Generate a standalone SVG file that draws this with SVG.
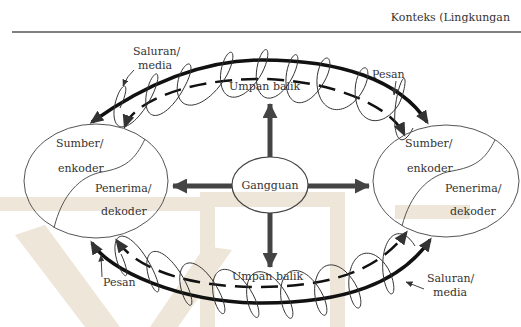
<svg xmlns="http://www.w3.org/2000/svg" xmlns:xlink="http://www.w3.org/1999/xlink" width="521" height="327" viewBox="0 0 521 327">
<style>
.t{font-family:"DejaVu Serif","Liberation Serif",serif;font-size:11px;fill:#333}
.node{fill:none;stroke:#555;stroke-width:1}
.thick{fill:none;stroke:#111;stroke-width:3.5}
.dash{fill:none;stroke:#111;stroke-width:2.5;stroke-dasharray:17 9}
.gray{fill:none;stroke:#444;stroke-width:5}
.lead{fill:none;stroke:#444;stroke-width:1}
.coil{fill:none;stroke:#333;stroke-width:1}
</style>
<defs>
<marker id="ah" viewBox="0 0 14 12" refX="11" refY="6" markerWidth="14" markerHeight="12" markerUnits="userSpaceOnUse" orient="auto-start-reverse"><path d="M0,0 L14,6 L0,12 z" fill="#333"/></marker>
<marker id="big" viewBox="0 0 15 15" refX="14" refY="7.5" markerWidth="15" markerHeight="15" markerUnits="userSpaceOnUse" orient="auto"><path d="M0,0 L15,7.5 L0,15 z" fill="#444"/></marker>
<marker id="sm" viewBox="0 0 7 6" refX="6.5" refY="3" markerWidth="7" markerHeight="6" markerUnits="userSpaceOnUse" orient="auto"><path d="M0,0 L7,3 L0,6 z" fill="#333"/></marker>
<path id="coil" class="coil" vector-effect="non-scaling-stroke" d="M0,0 C1.458,-6.021 1.623,-12.003 0.86,-16.26 C0.097,-20.517 -1.567,-23 -3.25,-23 C-4.933,-23 -6.597,-20.517 -7.36,-16.26 C-8.123,-12.003 -7.958,-6.021 -6.5,0 C-5.042,6.021 -2.29,12.003 1.39,16.26 C5.07,20.517 9.65,23 14.25,23 C18.85,23 23.43,20.517 27.11,16.26 C30.79,12.003 33.542,6.021 35,0"/>
</defs>
<rect width="521" height="327" fill="#fff"/>
<g id="watermark" fill="#eee6d8">
<polygon points="0,197 200,197 200,211 0,211"/>
<polygon points="15,235 45,225 120,327 85,327"/>
<polygon points="150,327 178,327 232,250 205,246"/>
<path d="M200,192 H345 V327 H330 V207 H215 V327 H200 Z"/>
<polygon points="395,205 470,205 470,219 395,219"/>
</g>
<g id="header">
<text class="t" x="510" y="21" text-anchor="end">Konteks (Lingkungan</text>
<line x1="12" y1="32" x2="521" y2="32" stroke="#555" stroke-width="1.5"/>
</g>
<g id="connectors">
<path class="thick" d="M92,122 C130,95 190,60 262,60 C340,60 400,80 427,122" marker-start="url(#ah)" marker-end="url(#ah)"/>
<path class="dash" d="M125,126 C132,105 180,79 262,79 C330,80 390,105 404,134" marker-start="url(#ah)" marker-end="url(#ah)"/>
<path class="thick" d="M92,243 C108,270 180,303 262,303 C345,303 400,283 430,240" marker-start="url(#ah)" marker-end="url(#ah)"/>
<path class="dash" d="M117,241 C138,270 190,287 258,287 C320,287 375,275 406,233" marker-start="url(#ah)" marker-end="url(#ah)"/>
<g id="coil-top">
<use xlink:href="#coil" transform="matrix(.914,-.343,-.3,1,120,108)"/>
<use xlink:href="#coil" transform="matrix(.943,-.286,-.3,1,152,96)"/>
<use xlink:href="#coil" transform="matrix(1.2,-.314,-.3,1,185,86)"/>
<use xlink:href="#coil" transform="matrix(1,-.057,-.3,1,227,75)"/>
<use xlink:href="#coil" transform="matrix(.857,.143,-.3,1,262,73)"/>
<use xlink:href="#coil" transform="matrix(.914,.114,-.3,1,292,78)"/>
<use xlink:href="#coil" transform="matrix(1.086,.286,-.3,1,324,82)"/>
<use xlink:href="#coil" transform="matrix(1.057,.343,-.3,1,362,92)"/>
<use xlink:href="#coil" transform="matrix(.4,.686,-.3,1,399,104)"/>
</g>
<g id="coil-bottom">
<use xlink:href="#coil" transform="matrix(.914,.457,-.3,-1,121,254)"/>
<use xlink:href="#coil" transform="matrix(.943,.371,-.3,-1,153,270)"/>
<use xlink:href="#coil" transform="matrix(.943,.229,-.3,-1,186,283)"/>
<use xlink:href="#coil" transform="matrix(.971,.1,-.3,-1,219,291)"/>
<use xlink:href="#coil" transform="matrix(.971,.014,-.3,-1,253,294.5)"/>
<use xlink:href="#coil" transform="matrix(.971,-.1,-.3,-1,287,295)"/>
<use xlink:href="#coil" transform="matrix(.971,-.229,-.3,-1,321,291.5)"/>
<use xlink:href="#coil" transform="matrix(.943,-.429,-.3,-1,355,283.5)"/>
<use xlink:href="#coil" transform="matrix(.771,-.643,-.3,-1,388,268.5)"/>
</g>
<line class="gray" x1="232" y1="186" x2="173" y2="186" marker-end="url(#big)"/>
<line class="gray" x1="308" y1="186" x2="369" y2="186" marker-end="url(#big)"/>
<line class="gray" x1="270" y1="157" x2="270" y2="104" marker-end="url(#big)"/>
<line class="gray" x1="270" y1="213" x2="270" y2="267" marker-end="url(#big)"/>
<path class="lead" d="M134,70 Q127,76 123,86" marker-end="url(#sm)"/>
<path class="lead" d="M396,81 L394,95" marker-end="url(#sm)"/>
<path class="lead" d="M102,277 L101,255" marker-end="url(#sm)"/>
<path class="lead" d="M424,289 L406,282" marker-end="url(#sm)"/>
</g>
<g id="sumber-kiri">
<ellipse class="node" cx="96" cy="181" rx="72" ry="57"/>
<path class="node" d="M145,139 C135,160 125,168 102,172 C80,176 62,195 54,228"/>
<text class="t" x="56" y="147">Sumber/</text>
<text class="t" x="58" y="172">enkoder</text>
<text class="t" x="95" y="192">Penerima/</text>
<text class="t" x="101" y="215">dekoder</text>
</g>
<g id="sumber-kanan">
<ellipse class="node" cx="446" cy="181" rx="73" ry="56"/>
<path class="node" d="M495,140 C485,160 475,167 452,171 C428,175 410,195 402,226"/>
<text class="t" x="405" y="147">Sumber/</text>
<text class="t" x="407" y="172">enkoder</text>
<text class="t" x="445" y="192">Penerima/</text>
<text class="t" x="450" y="215">dekoder</text>
</g>
<g id="gangguan">
<ellipse cx="270" cy="185" rx="38" ry="28" fill="none" stroke="#444" stroke-width="1.2"/>
<text class="t" x="270" y="189" text-anchor="middle">Gangguan</text>
</g>
<g id="labels">
<text class="t" x="133" y="55">Saluran/</text>
<text class="t" x="138" y="69">media</text>
<text class="t" x="229" y="90">Umpan balik</text>
<text class="t" x="372" y="78">Pesan</text>
<text class="t" x="232" y="280">Umpan balik</text>
<text class="t" x="103" y="286">Pesan</text>
<text class="t" x="427" y="282">Saluran/</text>
<text class="t" x="433" y="296">media</text>
</g>
</svg>
